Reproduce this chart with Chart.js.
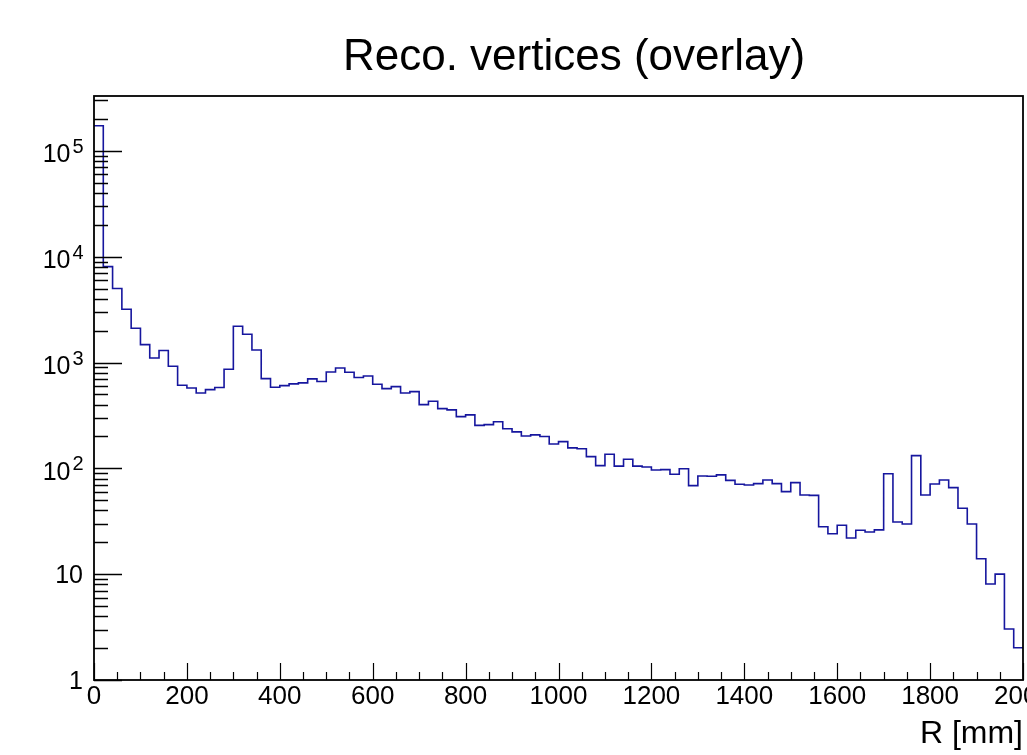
<!DOCTYPE html>
<html lang="en">
<head>
    <meta charset="UTF-8">
    <title>Reco. vertices (overlay)</title>
    <script src="https://cdn.jsdelivr.net/npm/chart.js"></script>
    <style>
        html, body { margin: 0; padding: 0; background: #fff; overflow: hidden; }
        #wrap { width: 1027px; height: 755px; overflow: hidden; }
        canvas { display: block; }
    </style>
</head>
<body>
    <div id="wrap"><canvas id="histo" width="1060" height="755"></canvas></div>

    <script>
        // histogram: 100 bins of 20 mm from 0 to 2000 mm
        const binWidth = 20;
        const counts = [
            173000, 8060, 5000, 3190, 2110, 1475, 1105, 1297, 923, 610,
            575, 516, 554, 580, 865, 2200, 1850, 1315, 704, 584,
            605, 628, 642, 700, 661, 815, 889, 810, 721, 747,
            624, 567, 592, 516, 531, 400, 430, 367, 357, 308,
            320, 255, 259, 276, 237, 221, 202, 207, 200, 170,
            179, 156, 153, 129, 106, 136, 105, 122, 105, 103,
            96.6, 97.2, 88, 99, 68.7, 84.8, 84.2, 86.7, 77, 70.7,
            69.7, 71.7, 77.6, 71.7, 60.3, 73.3, 56, 55.5, 28.1, 24.1,
            29, 22, 26, 25, 26.2, 89, 31.1, 29.8, 132, 56,
            71.2, 77.6, 65.7, 42, 29.8, 14.0, 8.08, 10.0, 3.03, 2.02
        ];
        const xTicks = [0, 200, 400, 600, 800, 1000, 1200, 1400, 1600, 1800, 2000];
        const yTickValues = [1, 10, 100, 1000, 10000, 100000];
        const yTickBase = ['1', '10', '10', '10', '10', '10'];
        const yTickExp = ['', '', '2', '3', '4', '5'];
        const yMin = 1, yMax = 3.3e5;
        const titleText = 'Reco. vertices (overlay)';
        const xTitle = 'R [mm]';

        const FONT = '"Liberation Sans", Arial, Helvetica, sans-serif';

        // step points: low edge of each bin, plus the upper edge of the last one
        const points = counts.map((c, i) => ({ x: i * binWidth, y: c }));
        points.push({ x: counts.length * binWidth, y: counts[counts.length - 1] });

        // ROOT-like frame, inward ticks, exponent labels and title
        const rootFrame = {
            id: 'rootFrame',
            afterDraw(chart) {
                const ctx = chart.ctx;
                const { left, right, top, bottom } = chart.chartArea;
                const xs = chart.scales.x, ys = chart.scales.y;
                ctx.save();
                ctx.strokeStyle = '#000';

                // y ticks (decades + 2..9 minors)
                ctx.lineWidth = 1.5;
                yTickValues.forEach(dec => {
                    for (let m = 1; m <= 9; m++) {
                        const v = m * dec;
                        if (v > yMax) break;
                        const py = Math.round(ys.getPixelForValue(v)) + 0.5;
                        ctx.beginPath();
                        ctx.moveTo(left, py);
                        ctx.lineTo(left + (m === 1 ? 28 : 14), py);
                        ctx.stroke();
                    }
                });

                // x ticks (major every 200, minor every 50)
                ctx.lineWidth = 1.2;
                for (let v = 0; v <= xs.max; v += 50) {
                    const px = Math.round(xs.getPixelForValue(v)) + 0.5;
                    ctx.beginPath();
                    ctx.moveTo(px, bottom);
                    ctx.lineTo(px, bottom - (v % 200 === 0 ? 17 : 8));
                    ctx.stroke();
                }

                // frame
                ctx.lineWidth = 1.8;
                ctx.strokeRect(left, top, right - left, bottom - top);

                // y labels
                ctx.fillStyle = '#000';
                yTickValues.forEach((v, i) => {
                    const py = ys.getPixelForValue(v);
                    ctx.textBaseline = 'alphabetic';
                    if (yTickExp[i]) {
                        ctx.font = '25px ' + FONT;
                        ctx.textAlign = 'right';
                        ctx.fillText(yTickBase[i], left - 23.5, py + 11.5);
                        ctx.font = '20px ' + FONT;
                        ctx.textAlign = 'left';
                        ctx.fillText(yTickExp[i], left - 21.5, py + 2);
                    } else {
                        ctx.font = '25px ' + FONT;
                        ctx.textAlign = 'right';
                        ctx.fillText(yTickBase[i], left - 11, py + 9);
                    }
                });

                // title
                ctx.font = '44px ' + FONT;
                ctx.textAlign = 'center';
                ctx.fillText(titleText, 574, 70);
                ctx.restore();
            }
        };

        new Chart(document.getElementById('histo'), {
            type: 'line',
            data: {
                datasets: [{
                    data: points,
                    stepped: 'before',
                    borderColor: '#16169e',
                    borderWidth: 1.6,
                    pointRadius: 0,
                    fill: false
                }]
            },
            options: {
                responsive: false,
                animation: false,
                layout: { padding: { top: 96, right: 37, bottom: 0, left: 0 } },
                plugins: {
                    legend: { display: false },
                    tooltip: { enabled: false },
                    title: { display: false }
                },
                scales: {
                    x: {
                        type: 'linear',
                        min: 0,
                        max: 2000,
                        grid: { display: false, drawTicks: false },
                        border: { display: false },
                        afterBuildTicks: s => { s.ticks = xTicks.map(v => ({ value: v })); },
                        afterFit: s => { s.height = 75; },
                        ticks: {
                            color: '#000',
                            font: { family: FONT, size: 26 },
                            padding: 1.5,
                            maxRotation: 0,
                            autoSkip: false,
                            callback: v => String(v)
                        },
                        title: {
                            display: true,
                            text: xTitle,
                            align: 'end',
                            color: '#000',
                            font: { family: FONT, size: 32 },
                            padding: { top: 0, bottom: 2 }
                        }
                    },
                    y: {
                        type: 'logarithmic',
                        min: yMin,
                        max: yMax,
                        grid: { display: false },
                        border: { display: false },
                        ticks: { display: false },
                        afterFit: s => { s.width = 94; }
                    }
                }
            },
            plugins: [rootFrame]
        });
    </script>
</body>
</html>
